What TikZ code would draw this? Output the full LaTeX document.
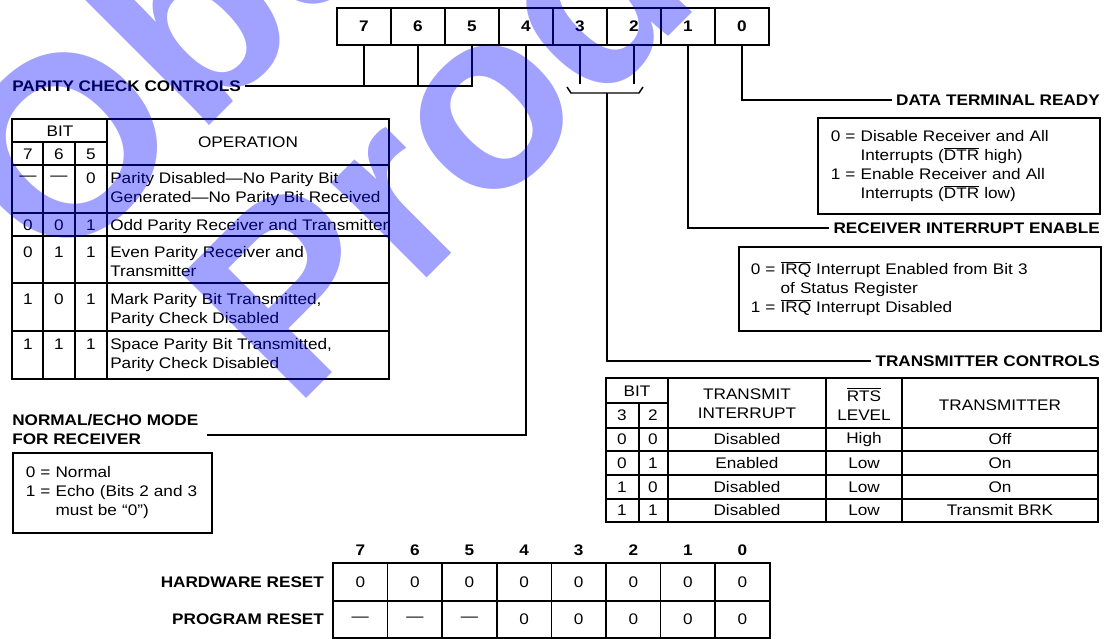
\documentclass[tikz,border=0pt]{standalone}
\usepackage{fontspec}
\setmainfont{Liberation Sans}[FakeStretch=1.12]
\newfontfamily\wmfont{Liberation Sans}
\usetikzlibrary{positioning}
\newcommand\txtsize{\fontsize{11.5}{14.25}\selectfont}
\newcommand\ovl[1]{$\overline{\mbox{#1}}$}

\begin{document}
\begin{tikzpicture}[
    x=0.75pt, y=-0.75pt,
    tline/.style={line width=1.2pt},
    wire/.style={line width=1.1pt},
    txt/.style={font=\txtsize, inner sep=0pt},
    lbl/.style={font=\bfseries\txtsize, inner sep=3pt},
    bitcell/.style={draw, tline, inner sep=0pt, font=\txtsize},
    regcell/.style={bitcell, minimum width=40.5pt, minimum height=27.75pt, font=\bfseries\txtsize},
    botcell/.style={bitcell, minimum width=40.95pt, minimum height=28.125pt},
    infobox/.style={draw, tline, anchor=north west, align=left, font=\txtsize, inner ysep=4pt},
    wmark/.style={rotate=45, inner sep=0pt, text=blue, text opacity=0.37,
                  font=\wmfont\bfseries\fontsize{191}{191}\selectfont},
  ]
  \fill[white] (0,0) rectangle (1108,639);
  \useasboundingbox (0,0) rectangle (1108,639);

  % command register
  \foreach \b [count=\i from 0] in {7,6,...,0}
    \node[regcell] (r\b) at (364+54*\i,26.5) {\b};

  % field labels and leaders
  \node[lbl, anchor=west] (parity) at (8,86) {PARITY CHECK CONTROLS};
  \draw[wire] (r7.south) -- (r7.south |- parity.east);
  \draw[wire] (r6.south) -- (r6.south |- parity.east);
  \draw[wire] (r5.south) |- (parity.east);

  \node[lbl, anchor=east] (dtr) at (1104,100) {DATA TERMINAL READY};
  \draw[wire] (r0.south) |- (dtr.west);

  \node[lbl, anchor=east] (rie) at (1104,228) {RECEIVER INTERRUPT ENABLE};
  \draw[wire] (r1.south) |- (rie.west);

  \node[lbl, anchor=east] (txc) at (1104,361) {TRANSMITTER CONTROLS};
  \coordinate (brk) at (607,93);
  \draw[wire] (r3.south) -- ++(0,38);
  \draw[wire] (r2.south) -- ++(0,38);
  \draw[wire] (567,87) -- (571,93) -- (639,93) -- (643,87);
  \draw[wire] (brk) |- (txc.west);

  \node[lbl, anchor=north west, align=left] (echo) at (8,410) {NORMAL/ECHO MODE\\FOR RECEIVER};
  \coordinate (echoend) at (207,435);
  \draw[wire] (r4.south) |- (echoend);

  % description boxes
  \node[infobox, inner xsep=9.75pt, text width=192pt, minimum height=72pt] (dtrbox) at (817,117)
    {\mbox{0 = Disable Receiver and All}\\
     \mbox{\phantom{0 = }Interrupts (\ovl{DTR} high)}\\
     \mbox{1 = Enable Receiver and All}\\
     \mbox{\phantom{0 = }Interrupts (\ovl{DTR} low)}};

  \node[infobox, inner xsep=9pt, text width=253.5pt, minimum height=63pt] (riebox) at (738,246)
    {\mbox{0 = \ovl{IRQ} Interrupt Enabled from Bit 3}\\
     \mbox{\phantom{0 = }of Status Register}\\
     \mbox{1 = \ovl{IRQ} Interrupt Disabled}};

  \node[infobox, inner xsep=9.75pt, text width=129.75pt, minimum height=60pt] (echobox) at (12,452)
    {\mbox{0 = Normal}\\
     \mbox{1 = Echo (Bits 2 and 3}\\
     \mbox{\phantom{1 = }must be ``0'')}};

  % parity table
  \draw[tline] (12,119) rectangle (389,379);
  \draw[tline] (12,142) -- (107,142);
  \foreach \y in {165,213,236,283,331}
    \draw[tline] (12,\y) -- (389,\y);
  \draw[tline] (43,142) -- (43,379);
  \draw[tline] (75,142) -- (75,379);
  \draw[tline] (107,119) -- (107,379);
  \node[txt] (pbit) at (60,131) {BIT};
  \foreach \b/\x in {7/28,6/59,5/91}
    \node[txt] (ph\b) at (\x,154) {\b};
  \node[txt] (pop) at (248,142) {OPERATION};
  \foreach \y/\bA/\bB/\bC/\op [count=\k] in {
      178/—/—/0/{Parity Disabled—No Parity Bit\\Generated—No Parity Bit Received},
      225/0/0/1/{Odd Parity Receiver and Transmitter},
      252/0/1/1/{Even Parity Receiver and\\Transmitter},
      299/1/0/1/{Mark Parity Bit Transmitted,\\Parity Check Disabled},
      344/1/1/1/{Space Parity Bit Transmitted,\\Parity Check Disabled}} {
    \node[txt] (pa\k) at (28,\y) {\bA};
    \node[txt] (pb\k) at (59,\y) {\bB};
    \node[txt] (pc\k) at (91,\y) {\bC};
    \node[txt, anchor=north west, align=left] (pt\k) at (110,\y-6) {\op};
  }

  % transmitter table
  \draw[tline] (606,378) rectangle (1098,522);
  \draw[tline] (606,403) -- (668,403);
  \foreach \y in {428,451,475,499}
    \draw[tline] (606,\y) -- (1098,\y);
  \draw[tline] (639,403) -- (639,522);
  \foreach \x in {668,826,902}
    \draw[tline] (\x,378) -- (\x,522);
  \node[txt] (tbit) at (637,391) {BIT};
  \node[txt] (th3) at (622,415) {3};
  \node[txt] (th2) at (653,415) {2};
  \node[txt, align=center] (tint) at (747,404) {TRANSMIT\\INTERRUPT};
  \node[txt, align=center] (trts) at (864,404) {\ovl{RTS}\\LEVEL};
  \node[txt] (ttx) at (1000,405) {TRANSMITTER};
  \foreach \y/\bA/\bB/\ti/\lv/\tx [count=\k] in {
      439.5/0/0/Disabled/High/Off,
      463/0/1/Enabled/Low/On,
      487/1/0/Disabled/Low/On,
      510.5/1/1/Disabled/Low/Transmit BRK} {
    \node[txt] (ta\k) at (622,\y) {\bA};
    \node[txt] (tb\k) at (653,\y) {\bB};
    \node[txt] (ti\k) at (747,\y) {\ti};
    \node[txt] (tl\k) at (864,\y) {\lv};
    \node[txt] (tt\k) at (1000,\y) {\tx};
  }

  % reset values
  \foreach \b/\v [count=\i from 0] in {7/—,6/—,5/—,4/0,3/0,2/0,1/0,0/0} {
    \node[lbl, inner sep=0pt] (bh\b) at (360.3+54.6*\i,550) {\b};
    \node[botcell] (hw\b) at (360.3+54.6*\i,582) {0};
    \node[botcell] (pr\b) at (360.3+54.6*\i,619.5) {\v};
  }
  \node[lbl, left=3pt of hw7] (hwlbl) {HARDWARE RESET};
  \node[lbl, left=3pt of pr7] (prlbl) {PROGRAM RESET};

  % watermark
  \node[wmark, anchor=base west] (wm1) at (57,278) {Obsolete};
  \node[wmark, anchor=base west] (wm2) at (294,411) {Product};
\end{tikzpicture}
\end{document}
